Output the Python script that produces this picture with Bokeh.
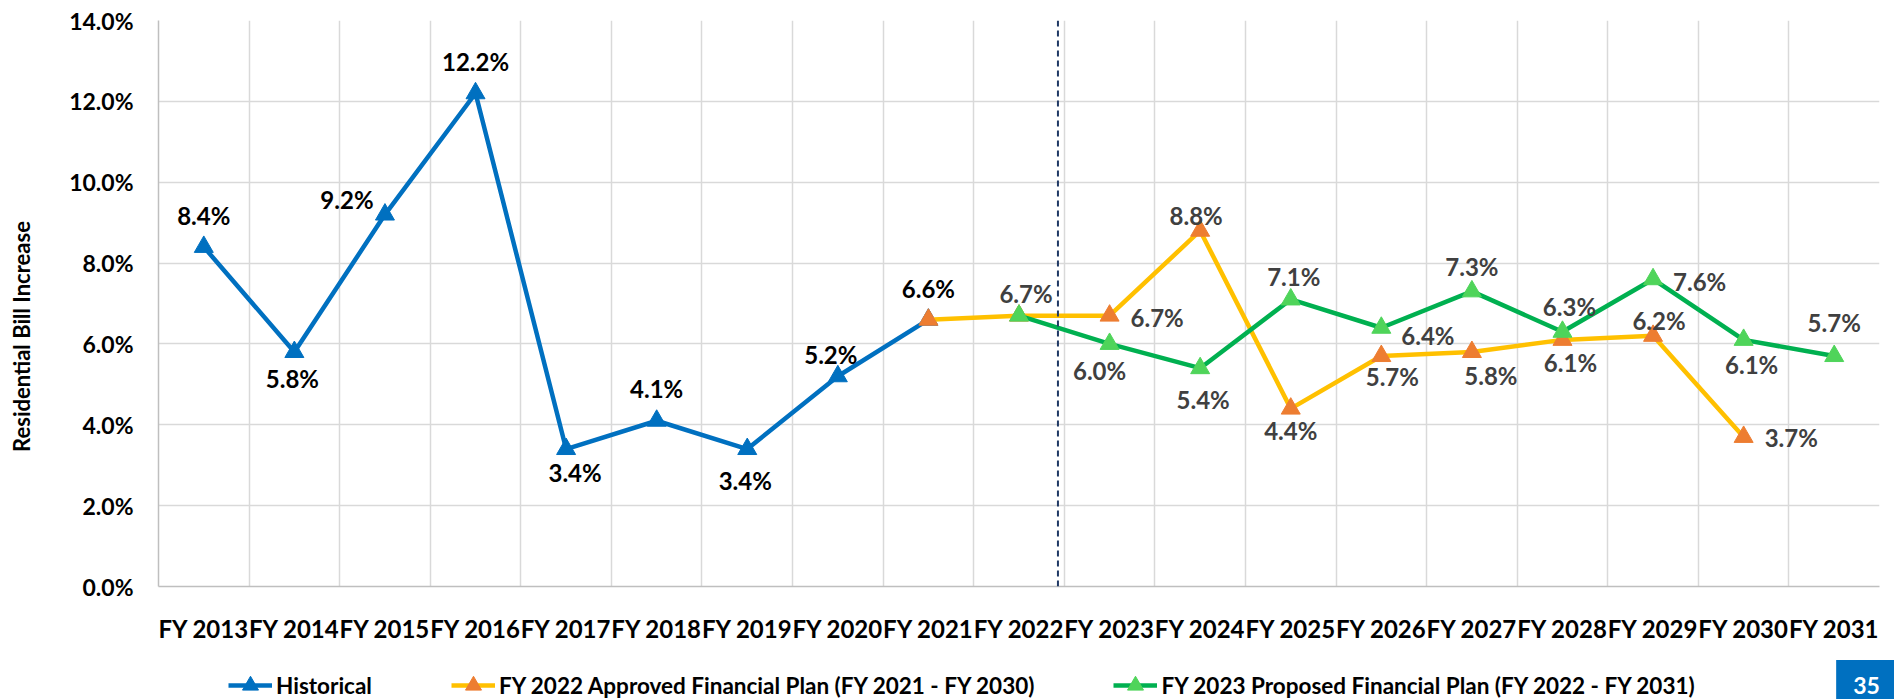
from bokeh.plotting import figure
from bokeh.layouts import column, row
from bokeh.models import (Range1d, FixedTicker, PrintfTickFormatter, Span, Legend,
                          LegendItem, Label, ColumnDataSource)
from bokeh.core.properties import value
from bokeh.embed import file_html
from bokeh.resources import INLINE

# ---------------- data ----------------
fiscal_years = ["FY 2013", "FY 2014", "FY 2015", "FY 2016", "FY 2017", "FY 2018",
                "FY 2019", "FY 2020", "FY 2021", "FY 2022", "FY 2023", "FY 2024",
                "FY 2025", "FY 2026", "FY 2027", "FY 2028", "FY 2029", "FY 2030",
                "FY 2031"]

historical_years = fiscal_years[0:9]      # FY 2013 - FY 2021
historical = [8.4, 5.8, 9.2, 12.2, 3.4, 4.1, 3.4, 5.2, 6.6]

approved_years = fiscal_years[8:18]       # FY 2021 - FY 2030
approved = [6.6, 6.7, 6.7, 8.8, 4.4, 5.7, 5.8, 6.1, 6.2, 3.7]

proposed_years = fiscal_years[9:19]       # FY 2022 - FY 2031
proposed = [6.7, 6.0, 5.4, 7.1, 6.4, 7.3, 6.3, 7.6, 6.1, 5.7]

y_ticks = [0, 2, 4, 6, 8, 10, 12, 14]
divider_after = "FY 2022"                 # forecast divider sits at the end of this year
series_names = ["Historical",
                "FY 2022 Approved Financial Plan (FY 2021 - FY 2030)",
                "FY 2023 Proposed Financial Plan (FY 2022 - FY 2031)"]
y_title = "Residential Bill Increase"
page_number = "35"

# ---------------- label placement (style) ----------------
hist_lab = [(0, -31, "center"), (-2, 26, "center"), (-38, -15, "center"),
            (0, -32, "center"), (9, 23, "center"), (0, -32, "center"),
            (-2, 31, "center"), (-7, -22, "center"), (0, -31, "center")]
# approved labels start at FY 2023 (index 2 of approved)
appr_lab = [None, None, (21, 2, "left"), (-4, -15, "center"), (0, 22, "center"),
            (11, 20, "center"), (19, 23, "center"), (8, 23, "center"),
            (6, -15, "center"), (21, 1, "left")]
prop_lab = [(7, -22, "center"), (-10, 27, "center"), (3, 31, "center"),
            (3, -23, "center"), (20, 8, "left"), (0, -25, "center"),
            (7, -25, "center"), (20, 2, "left"), (8, 25, "center"), (0, -34, "center")]

BLUE = "#0070C0"
YELLOW = "#FFC000"
ORANGE = "#ED7D31"
GREEN = "#00B050"
LGREEN = "#4FD45A"
FONT = value("Lato")

W = 1894
W_TITLE = 40
H_TOP = 645
H_BOT = 699 - H_TOP


def xpos(years):
    return [fiscal_years.index(y) + 0.5 for y in years]


# ---------------- y title strip ----------------
pt = figure(width=W_TITLE, height=H_TOP, output_backend="svg", toolbar_location=None,
            x_range=Range1d(0, 1), y_range=Range1d(0, 1),
            x_axis_type=None, y_axis_type=None, min_border=0)
pt.outline_line_color = None
pt.grid.visible = False
pt.frame_align = False
pt.add_layout(Label(x=21, y=H_TOP - 336, x_units="screen", y_units="screen",
                    text=y_title, angle=90, angle_units="deg", anchor="center",
                    text_font="Lato", text_font_style="bold", text_font_size="22px",
                    text_color="black"))

# ---------------- main chart ----------------
p = figure(width=W - W_TITLE, height=H_TOP, output_backend="svg", toolbar_location=None,
           x_range=Range1d(0, len(fiscal_years)), y_range=Range1d(0, 14),
           min_border_left=158 - W_TITLE, min_border_right=15, min_border_top=20,
           min_border_bottom=H_TOP - 586)
p.outline_line_color = None
p.background_fill_color = "white"
p.frame_align = False

# grids at category boundaries
p.xgrid.ticker = FixedTicker(ticks=list(range(len(fiscal_years) + 1)))
p.xgrid.grid_line_color = "#D9D9D9"
p.xgrid.grid_line_width = 1.5
p.ygrid.ticker = FixedTicker(ticks=y_ticks)
p.ygrid.grid_line_color = "#D9D9D9"
p.ygrid.grid_line_width = 1.5

# x axis
p.xaxis.ticker = FixedTicker(ticks=[i + 0.5 for i in range(len(fiscal_years))])
p.xaxis.major_label_overrides = {i + 0.5: fy for i, fy in enumerate(fiscal_years)}
p.xaxis.major_tick_line_color = None
p.xaxis.minor_tick_line_color = None
p.xaxis.axis_line_color = "#BFBFBF"
p.xaxis.axis_line_width = 1.5
p.xaxis.major_label_text_font = "Lato"
p.xaxis.major_label_text_font_style = "bold"
p.xaxis.major_label_text_font_size = "24px"
p.xaxis.major_label_text_color = "black"
p.xaxis.major_label_standoff = 21

# y axis
p.yaxis.ticker = FixedTicker(ticks=y_ticks)
p.yaxis.formatter = PrintfTickFormatter(format="%.1f%%")
p.yaxis.major_tick_line_color = None
p.yaxis.minor_tick_line_color = None
p.yaxis.axis_line_color = "#BFBFBF"
p.yaxis.axis_line_width = 1.5
p.yaxis.major_label_text_font = "Lato"
p.yaxis.major_label_text_font_style = "bold"
p.yaxis.major_label_text_font_size = "23px"
p.yaxis.major_label_text_color = "black"
p.yaxis.major_label_standoff = 19

# divider between actuals and plan
p.add_layout(Span(location=fiscal_years.index(divider_after) + 0.93, dimension="height",
                  line_color="#1F3864", line_dash="6 4", line_width=2))


def series(years, vals, line_color, marker_color, labs, text_color):
    xs = xpos(years)
    p.line(xs, vals, line_color=line_color, line_width=4.5)
    p.scatter(xs, vals, marker="triangle", size=19, fill_color=marker_color,
              line_color=marker_color)
    lx, ly, lt, dx, dy, al = [], [], [], [], [], []
    for x, v, lab in zip(xs, vals, labs):
        if lab is None:
            continue
        lx.append(x); ly.append(v); lt.append(f"{v:.1f}%")
        dx.append(lab[0]); dy.append(lab[1]); al.append(lab[2])
    src = ColumnDataSource(dict(x=lx, y=ly, t=lt, dx=dx, dy=dy, al=al))
    p.text(x="x", y="y", text="t", source=src, x_offset="dx", y_offset="dy",
           text_align="al", text_baseline="middle", text_font=FONT,
           text_font_style="bold", text_font_size="24px", text_color=text_color)


series(historical_years, historical, BLUE, BLUE, hist_lab, "black")
series(approved_years, approved, YELLOW, ORANGE, appr_lab, "#404040")
series(proposed_years, proposed, GREEN, LGREEN, prop_lab, "#404040")

# ---------------- legend strip ----------------
p2 = figure(width=W, height=H_BOT, output_backend="svg", toolbar_location=None,
            x_range=Range1d(0, 1), y_range=Range1d(0, 1),
            x_axis_type=None, y_axis_type=None, min_border=0)
p2.outline_line_color = None
p2.grid.visible = False
p2.frame_align = False

nan = float("nan")
items = []
for name, lc, mc in zip(series_names, [BLUE, YELLOW, GREEN], [BLUE, ORANGE, LGREEN]):
    # legend proxies (no visible data)
    r1 = p2.line([nan], [nan], line_color=lc, line_width=4.5)
    r2 = p2.scatter([nan], [nan], marker="triangle", size=18, fill_color=mc, line_color=mc)
    items.append(LegendItem(label=name, renderers=[r1, r2]))

legend = Legend(items=items, orientation="horizontal", location=(228, -6),
                glyph_width=44, glyph_height=40, label_standoff=4, spacing=79,
                padding=0, margin=0, border_line_color=None, background_fill_alpha=0,
                label_text_font="Lato", label_text_font_style="bold",
                label_text_font_size="22.5px", label_text_color="black")
p2.add_layout(legend, "center")

p2.add_layout(Label(x=1866, y=H_BOT - 40, x_units="screen", y_units="screen",
                    text=page_number, anchor="center", text_font="Lato",
                    text_font_style="bold", text_font_size="23px", text_color="white",
                    background_fill_color=BLUE, padding=17))

layout = column(row(pt, p, spacing=0), p2, spacing=0)
open("out.html", "w").write(file_html(layout, INLINE))
